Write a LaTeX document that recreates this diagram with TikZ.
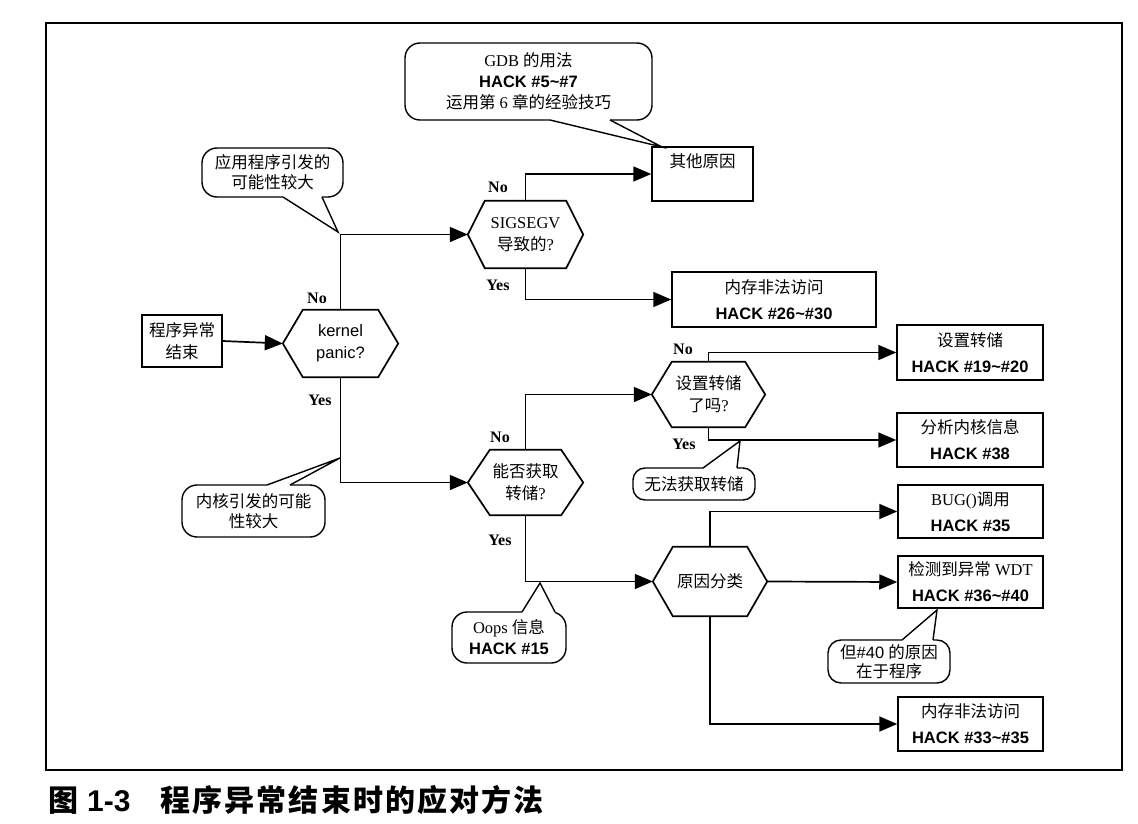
\documentclass[tikz,border=0pt]{standalone}
\usepackage{fontspec}
\setmainfont{Liberation Serif}
\setsansfont{Liberation Sans}
\newfontfamily\cjk{Noto Sans CJK SC}
\newfontfamily\cjkcap{Noto Sans CJK SC}[LetterSpace=7]
\usetikzlibrary{arrows.meta}
\newcommand\zh[1]{{\cjk #1}}
\newcommand\hk[1]{{\sffamily\bfseries #1}}
\newcommand\hexoutline[2]{%
  \draw[hexline] (#1.west) -- ([xshift=#2]#1.north west) -- ([xshift=-#2]#1.north east)
    -- (#1.east) -- ([xshift=-#2]#1.south east) -- ([xshift=#2]#1.south west) -- cycle;}
% tail: x1, x2, edge y, inner y, tip
\newcommand\ctail[5]{%
  \fill[white] (#1,#4) -- (#2,#4) -- (#2,#3) -- #5 -- (#1,#3) -- cycle;
  \draw[bubline] (#1,#3) -- #5 -- (#2,#3);}
\tikzset{
  base/.style={font=\fontsize{16.5}{26}\selectfont, inner sep=0pt, align=center},
  box/.style={base, draw, line width=1.5pt, fill=white},
  hexnode/.style={base},
  hexline/.style={line width=1.7pt, line join=miter},
  bub/.style={base, draw, line width=1.4pt, rounded corners=15pt, fill=white},
  bubline/.style={line width=1.4pt, line join=miter},
  arr/.style={line width=1.7pt, -{Triangle[length=18pt,width=15pt]}},
  yn/.style={font=\fontsize{16}{18}\selectfont\bfseries, inner sep=0pt},
}
\begin{document}
\begin{tikzpicture}[x=1pt,y=-1pt]
\useasboundingbox (0,0) rectangle (1138,824);
% frame
\draw[line width=1.5pt] (46,23) rectangle (1122,770);

% hexagons
\node[hexnode, minimum width=115pt, minimum height=67pt] (kp) at (340.5,343.5) {\sffamily kernel\\[-4pt]\sffamily panic?};
\node[hexnode, minimum width=115pt, minimum height=67pt] (ss) at (525.5,234.5) {SIGSEGV\\[-4pt]\zh{导致的}?};
\node[hexnode, minimum width=115pt, minimum height=65pt] (dq) at (525.5,482.5) {\zh{能否获取}\\[-4pt]\zh{转储}?};
\node[hexnode, minimum width=113pt, minimum height=65pt] (sd) at (708.5,394.5) {\zh{设置转储}\\[-4pt]\zh{了吗}?};
\node[hexnode, minimum width=114pt, minimum height=69pt] (cls) at (710,581.5) {\zh{原因分类}};
\hexoutline{kp}{20pt}
\hexoutline{ss}{17pt}
\hexoutline{dq}{22pt}
\hexoutline{sd}{20pt}
\hexoutline{cls}{20pt}

% boxes
\node[box, minimum width=80pt, minimum height=52pt] (start) at (182,341) {\zh{程序异常}\\[-4pt]\zh{结束}};
\node[box, minimum width=101pt, minimum height=54pt] (other) at (702.5,174) {\zh{其他原因}\\\mbox{}};
\node[box, minimum width=204pt, minimum height=55pt] (mem1) at (774,299.5) {\zh{内存非法访问}\\\hk{HACK \#26\textasciitilde\#30}};
\node[box, minimum width=146pt, minimum height=55pt] (setb) at (970,352.5) {\zh{设置转储}\\\hk{HACK \#19\textasciitilde\#20}};
\node[box, minimum width=146pt, minimum height=54pt] (ana) at (970,440) {\zh{分析内核信息}\\\hk{HACK \#38}};
\node[box, minimum width=145pt, minimum height=53pt] (bug) at (970.5,511.5) {BUG()\zh{调用}\\\hk{HACK \#35}};
\node[box, minimum width=145pt, minimum height=52pt] (wdt) at (970.5,582) {\zh{检测到异常} WDT\\\hk{HACK \#36\textasciitilde\#40}};
\node[box, minimum width=145pt, minimum height=54pt] (mem2) at (970.5,724) {\zh{内存非法访问}\\\hk{HACK \#33\textasciitilde\#35}};

% connectors
\draw[arr] (start.east) -- (kp.west);
\draw[arr] (kp.north) |- (ss.west);
\draw[arr] (ss.north) |- (other.west);
\draw[arr] (ss.south) |- (mem1.west);
\draw[arr] (kp.south) |- (dq.west);
\draw[arr] (dq.north) |- (sd.west);
\draw[arr] (dq.south) |- (cls.west);
\draw[arr] (sd.north) |- (setb.west);
\draw[arr] (sd.south) |- (ana.west);
\draw[arr] (cls.north) |- (bug.west);
\draw[arr] (cls.east) -- (wdt.west);
\draw[arr] (cls.south) |- (mem2.west);

% yes / no labels
\node[yn] (n1) at (317,298) {No};
\node[yn] (y1) at (320,400) {Yes};
\node[yn] (n2) at (498,187) {No};
\node[yn] (y2) at (498,285) {Yes};
\node[yn] (n3) at (500,437) {No};
\node[yn] (y3) at (500,540) {Yes};
\node[yn] (n4) at (683,349) {No};
\node[yn] (y4) at (684,444) {Yes};

% callouts
\node[bub, minimum width=247pt, minimum height=77pt] (c1) at (528.5,81.5)
  {GDB \zh{的用法}\\[-5pt]\hk{HACK \#5\textasciitilde\#7}\\[-5pt]\zh{运用第} 6 \zh{章的经验技巧}};
\ctail{550}{610}{120}{118.3}{(662,147)}
\node[bub, minimum width=141pt, minimum height=49pt] (c2) at (272.5,172.5)
  {\zh{应用程序引发的}\\[-6pt]\zh{可能性较大}};
\ctail{283}{322}{197}{195.3}{(338,232)}
\node[bub, minimum width=143pt, minimum height=52pt] (c3) at (253.5,511)
  {\zh{内核引发的可能}\\[-6pt]\zh{性较大}};
\ctail{267}{290}{485}{486.7}{(340,458)}
\node[bub, minimum width=114pt, minimum height=51pt] (c4) at (509,637.5)
  {Oops \zh{信息}\\[-5pt]\hk{HACK \#15}};
\ctail{522}{555}{612}{613.7}{(540,583)}
\node[bub, minimum width=122pt, minimum height=32pt, rounded corners=12pt] (c5) at (694,484)
  {\zh{无法获取转储}};
\ctail{703}{737}{468}{469.7}{(740,441)}
\node[bub, minimum width=122pt, minimum height=43pt, rounded corners=13pt] (c6) at (889,661.5)
  {\zh{但}{\sffamily\#40} \zh{的原因}\\[-7pt]\zh{在于程序}};
\ctail{902}{933}{640}{641.7}{(937,610)}

% caption
\node[anchor=west, inner sep=0pt, font=\fontsize{30}{32}\selectfont\bfseries] (cap) at (48,800)
  {{\cjk 图}\hspace{9pt}{\sffamily 1-3}\hspace{30pt}{\cjkcap 程序异常结束时的应对方法}};
\end{tikzpicture}
\end{document}
